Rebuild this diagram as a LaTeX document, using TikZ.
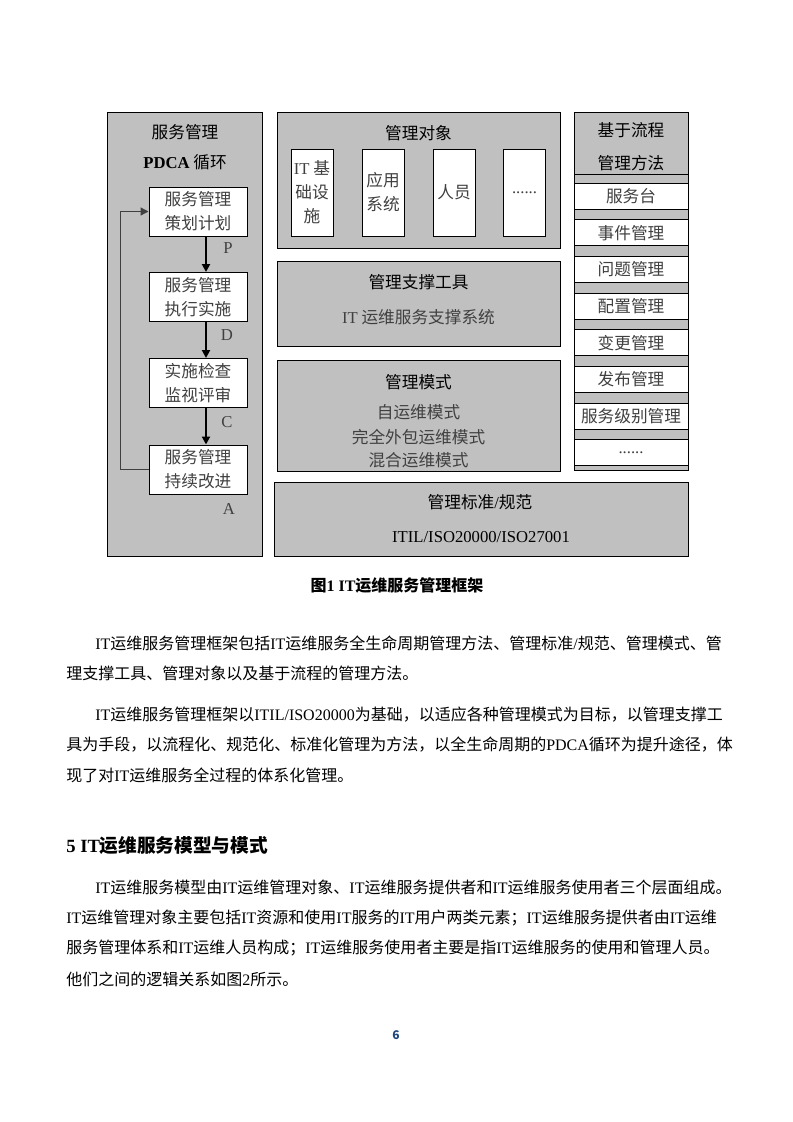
\documentclass[tikz,border=0pt]{standalone}
\usepackage{fontspec}
\setmainfont{Noto Sans CJK SC}
\newfontfamily\latinfont{Liberation Serif}
\newcommand{\lat}[1]{{\latinfont #1}}
\usetikzlibrary{arrows.meta}
\definecolor{panelgray}{RGB}{192,192,192}
\definecolor{pagenum}{RGB}{31,73,125}

\begin{document}
\begin{tikzpicture}[x=0.75pt,y=-0.75pt,
  panel/.style={draw=black,fill=panelgray,line width=0.75pt},
  whitebox/.style={draw=black,fill=white,line width=0.75pt,inner sep=0pt,
    align=center,text=black!75,font=\fontsize{12.5}{18}\selectfont},
  pdcabox/.style={whitebox,minimum width=73.5pt,minimum height=36.75pt},
  objbox/.style={whitebox,minimum width=31.5pt,minimum height=65.25pt},
  procbox/.style={whitebox,minimum width=85.5pt,minimum height=19.5pt},
  title/.style={font=\fontsize{12.5}{18}\selectfont,inner sep=0pt},
  sub/.style={title,text=black!75},
  pdcaarrow/.style={line width=1.6pt,-{Triangle[length=6pt,width=6pt]}},
  loop/.style={line width=1pt,black!75,-{Triangle[length=6pt,width=6pt]}},
  body/.style={anchor=west,font=\fontsize{12}{14}\selectfont,inner sep=0pt},
]
\fill[white] (0,0) rectangle (793,1122);
\useasboundingbox (0,0) rectangle (793,1122);

% PDCA column
\draw[panel] (107,112) rectangle (262,556);
\node[title] (svc) at (185,132) {服务管理};
\node[title] (pdca) at (185,162) {{\bfseries\lat{PDCA}} 循环};
\node[pdcabox] (plan) at (198,211.5) {服务管理\\策划计划};
\node[pdcabox] (do) at (198,297) {服务管理\\执行实施};
\node[pdcabox] (check) at (198,383) {实施检查\\监视评审};
\node[pdcabox] (act) at (198,469.5) {服务管理\\持续改进};
\draw[pdcaarrow] ([xshift=6pt]plan.south) -- ([xshift=6pt]do.north);
\draw[pdcaarrow] ([xshift=6pt]do.south) -- ([xshift=6pt]check.north);
\draw[pdcaarrow] ([xshift=6pt]check.south) -- ([xshift=6pt]act.north);
\draw[loop] (act.west) -- ++(-28,0) |- (plan.west);
\node[sub] (lp) at (228,248) {\lat{P}};
\node[sub] (ld) at (227,335) {\lat{D}};
\node[sub] (lc) at (227,422) {\lat{C}};
\node[sub] (la) at (229,509) {\lat{A}};

% middle panels
\draw[panel] (277,112) rectangle (560,248);
\node[title] (obj) at (418.5,133) {管理对象};
\node[objbox] (infra) at (312,192.5) {\lat{IT} 基\\础设\\施};
\node[objbox] (app) at (383,192.5) {应用\\系统};
\node[objbox] (staff) at (454,192.5) {人员};
\node[objbox] (moreobj) at (524.5,192.5) {\lat{......}};

\draw[panel] (277,261) rectangle (560,346);
\node[title] (tool) at (418.5,282) {管理支撑工具};
\node[sub] (toolsys) at (418.5,317) {\lat{IT} 运维服务支撑系统};

\draw[panel] (277,360) rectangle (560,471);
\node[title] (mode) at (418.5,382) {管理模式};
\node[sub] (mode1) at (418.5,412) {自运维模式};
\node[sub] (mode2) at (418.5,437) {完全外包运维模式};
\node[sub] (mode3) at (418.5,460) {混合运维模式};

\draw[panel] (274,482) rectangle (688,556);
\node[title] (std) at (480,502) {管理标准\lat{/}规范};
\node[title] (stdlist) at (481,537) {\lat{ITIL/ISO20000/ISO27001}};

% process column
\draw[panel] (574,112) rectangle (688,470);
\draw (574,174) -- (688,174);
\node[title] (proc) at (631,130) {基于流程};
\node[title] (method) at (631,163) {管理方法};
\foreach \t [count=\i from 0] in {服务台,事件管理,问题管理,配置管理,变更管理,发布管理,服务级别管理,\lat{......}}
  \node[procbox] (proc\i) at (631,{196+36.7*\i}) {\t};

% caption and text
\node[font=\bfseries\fontsize{12}{14}\selectfont,inner sep=0pt] (cap) at (397,585) {图\lat{1 IT}运维服务管理框架};
\node[body] (p1a) at (95,643) {\lat{IT}运维服务管理框架包括\lat{IT}运维服务全生命周期管理方法、管理标准\lat{/}规范、管理模式、管};
\node[body] (p1b) at (66,673) {理支撑工具、管理对象以及基于流程的管理方法。};
\node[body] (p2a) at (95,715) {\lat{IT}运维服务管理框架以\lat{ITIL/ISO20000}为基础，以适应各种管理模式为目标，以管理支撑工};
\node[body] (p2b) at (66,745) {具为手段，以流程化、规范化、标准化管理为方法，以全生命周期的\lat{PDCA}循环为提升途径，体};
\node[body] (p2c) at (66,775) {现了对\lat{IT}运维服务全过程的体系化管理。};
\node[body,font=\bfseries\fontsize{14}{16}\selectfont] (sec) at (66,845) {\lat{5 IT}运维服务模型与模式};
\node[body] (p3a) at (95,887) {\lat{IT}运维服务模型由\lat{IT}运维管理对象、\lat{IT}运维服务提供者和\lat{IT}运维服务使用者三个层面组成。};
\node[body] (p3b) at (66,918) {\lat{IT}运维管理对象主要包括\lat{IT}资源和使用\lat{IT}服务的\lat{IT}用户两类元素；\lat{IT}运维服务提供者由\lat{IT}运维};
\node[body] (p3c) at (66,948) {服务管理体系和\lat{IT}运维人员构成；\lat{IT}运维服务使用者主要是指\lat{IT}运维服务的使用和管理人员。};
\node[body] (p3d) at (66,979) {他们之间的逻辑关系如图\lat{2}所示。};
\node[font=\bfseries\fontsize{9}{10}\selectfont,text=pagenum,inner sep=0pt] (pageno) at (396,1035) {6};
\end{tikzpicture}
\end{document}
